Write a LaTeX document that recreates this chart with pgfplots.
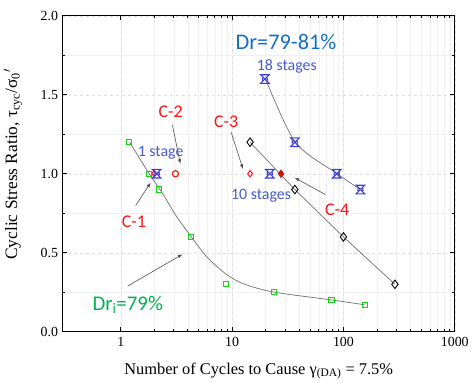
\documentclass[border=0pt]{standalone}
\usepackage{pgfplots}
\pgfplotsset{compat=1.18}
\usepackage{fontspec}
\setmainfont{Liberation Serif}
\newfontfamily\cali{Carlito}
\definecolor{gsq}{RGB}{20,210,20}
\definecolor{gtx}{RGB}{0,176,80}
\definecolor{rd}{RGB}{250,20,20}
\definecolor{bmk}{RGB}{60,60,225}
\definecolor{btx}{RGB}{70,90,205}
\definecolor{dtx}{RGB}{20,110,200}
\definecolor{fit}{RGB}{110,110,110}
\pgfdeclareplotmark{xbow}{%
  \pgfpathmoveto{\pgfqpoint{-\pgfplotmarksize}{\pgfplotmarksize}}%
  \pgfpathlineto{\pgfqpoint{\pgfplotmarksize}{\pgfplotmarksize}}%
  \pgfpathlineto{\pgfqpoint{-\pgfplotmarksize}{-\pgfplotmarksize}}%
  \pgfpathlineto{\pgfqpoint{\pgfplotmarksize}{-\pgfplotmarksize}}%
  \pgfpathclose
  \pgfpathmoveto{\pgfqpoint{-0.6\pgfplotmarksize}{0.3\pgfplotmarksize}}%
  \pgfpathlineto{\pgfqpoint{-0.6\pgfplotmarksize}{-0.3\pgfplotmarksize}}%
  \pgfpathmoveto{\pgfqpoint{0.6\pgfplotmarksize}{0.3\pgfplotmarksize}}%
  \pgfpathlineto{\pgfqpoint{0.6\pgfplotmarksize}{-0.3\pgfplotmarksize}}%
  \pgfusepathqstroke
}
\begin{document}
\begin{tikzpicture}
\begin{axis}[
  at={(0,0)}, anchor=south west,
  width=395pt, height=318pt, scale only axis,
  xmode=log, xmin=0.3, xmax=1000, ymin=0, ymax=2,
  xtick={1,10,100,1000}, xticklabels={1,10,100,1000},
  ytick={0,0.5,1,1.5,2}, minor y tick num=1,
  yticklabel style={xshift=-1pt},
  y tick label style={/pgf/number format/.cd,fixed,fixed zerofill,precision=1},
  /pgf/number format/assume math mode=true,
  tick align=inside,
  major tick length=4.5pt, minor tick length=2.5pt,
  every tick/.style={black, line width=0.8pt},
  grid=both,
  major grid style={gray!25, dashed, line width=0.4pt},
  minor grid style={gray!12, line width=0.3pt},
  axis line style={line width=1.1pt},
  ticklabel style={font=\fontsize{14}{16}\selectfont},
  xticklabel style={yshift=-2pt},
  xlabel={Number of Cycles to Cause γ\textsubscript{(DA)} = 7.5\%},
  xlabel style={at={(axis description cs:0.5,0)}, anchor=north, yshift=-31pt, inner sep=0pt, font=\fontsize{16.5}{18}\selectfont},
  ylabel={Cyclic Stress Ratio, τ\textsubscript{cyc}/σ\textsubscript{0}$'$},
  ylabel style={at={(axis description cs:-0.102,0.53)}, anchor=south, inner sep=0pt, font=\fontsize{17.5}{19}\selectfont},
  clip=false,
]
% fitted curves
\addplot[fit, line width=0.7pt, smooth, tension=0.5] coordinates {
 (1.2,1.2) (1.8,1.0) (2.4,0.87) (3.1,0.74) (4.3,0.6) (6,0.47) (9,0.36) (13,0.30) (24,0.25) (80,0.2) (155,0.17)};
\addplot[fit, line width=0.7pt, smooth, tension=0.5] coordinates {
 (20,1.6) (37,1.2) (88,1.0) (142,0.9)};
\addplot[fit, line width=0.7pt] coordinates {
 (14.5,1.2) (36.6,0.9) (100,0.6) (290,0.3)};
% green squares
\addplot[only marks, mark=square, mark size=2.6pt, gsq, line width=1pt] coordinates {
 (1.18,1.2) (1.78,1.0) (2.2,0.9) (4.3,0.6) (8.8,0.3) (23.7,0.25) (78,0.2) (157,0.17)};
% black diamonds
\addplot[only marks, mark=diamond, mark size=4.3pt, black, line width=0.9pt, mark options={fill=white}] coordinates {
 (14.5,1.2) (36.6,0.9) (100,0.6) (290,0.3)};
% red markers
\addplot[only marks, mark=diamond, mark size=3.2pt, rd, line width=1pt] coordinates {(2.0,1.0) (14.5,1.0)};
\addplot[only marks, mark=o, mark size=3.1pt, rd, line width=1.2pt] coordinates {(3.1,1.0)};
\addplot[only marks, mark=diamond*, mark size=4pt, rd!75!black, mark options={fill=rd!85!black}] coordinates {(27.5,1.0)};
% blue markers
\addplot[only marks, mark=xbow, mark size=4.3pt, bmk, line width=1.1pt] coordinates {
 (2.1,1.0) (21.8,1.0) (19.7,1.6) (36.6,1.2) (87,1.0) (142,0.9)};
% annotations
\node[dtx, font=\cali\fontsize{22.5}{26}\selectfont] at (axis cs:30.5,1.836) {Dr=79-81\%};
\node[btx, font=\cali\fontsize{16}{18}\selectfont] at (axis cs:31,1.68) {18 stages};
\node[btx, font=\cali\fontsize{16}{18}\selectfont] at (axis cs:2.28,1.132) {1 stage};
\node[btx, font=\cali\fontsize{16}{18}\selectfont] at (axis cs:18.2,0.862) {10 stages};
\node[rd, font=\cali\fontsize{18}{20}\selectfont] at (axis cs:2.8,1.39) {C-2};
\node[rd, font=\cali\fontsize{18}{20}\selectfont] at (axis cs:8.84,1.327) {C-3};
\node[rd, font=\cali\fontsize{18}{20}\selectfont] at (axis cs:88,0.774) {C-4};
\node[rd, font=\cali\fontsize{18}{20}\selectfont] at (axis cs:1.31,0.698) {C-1};
\node[gtx, font=\cali\fontsize{21}{24}\selectfont] at (axis cs:1.155,0.17) {Dr\textsubscript{i}=79\%};
\draw[-latex, fit!70!black, line width=0.6pt] (axis cs:2.91,1.308) -- (axis cs:3.43,1.063);
\draw[-latex, fit!70!black, line width=0.6pt] (axis cs:9.8,1.264) -- (axis cs:12.5,1.031);
\draw[-latex, fit!70!black, line width=0.6pt] (axis cs:69,0.868) -- (axis cs:36.5,0.975);
\draw[-latex, fit!70!black, line width=0.6pt] (axis cs:1.36,0.799) -- (axis cs:1.85,0.943);
\draw[-latex, fit!70!black, line width=0.6pt] (axis cs:1.155,0.289) -- (axis cs:3.58,0.49);
\end{axis}
\path (-63pt,-51pt) rectangle (409pt,334pt);
\end{tikzpicture}
\end{document}
